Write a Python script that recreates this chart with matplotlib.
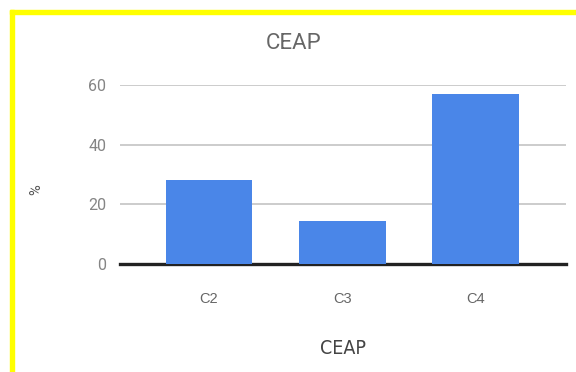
import matplotlib
matplotlib.use("Agg")
import matplotlib.pyplot as plt
from matplotlib.patches import Rectangle

categories = ["C2", "C3", "C4"]
values = [28.1, 14.3, 57.0]
yticks = [0, 20, 40, 60]
title = "CEAP"
xlabel = "CEAP"
ylabel = "%"

plt.rcParams['font.family'] = ['Roboto', 'DejaVu Sans']

fig = plt.figure(figsize=(5.76, 3.72), dpi=100)
fig.patch.set_facecolor("white")

W, H = 576, 372
ax = fig.add_axes([120 / W, (H - 264) / H, (566 - 120) / W, (264 - 85) / H])

x = list(range(len(categories)))
ax.bar(x, values, width=0.65, color="#4a86e8", zorder=3)

ax.set_xlim(-0.668, 2.679)
ax.set_ylim(0, 60)
ax.set_yticks(yticks)
ax.set_yticklabels([str(v) for v in yticks])
ax.set_xticks(x)
ax.set_xticklabels(categories, family=["Liberation Sans", "DejaVu Sans"])

ax.grid(axis="y", color="#c8c8c8", linewidth=1.3, zorder=0)
ax.set_axisbelow(True)
for s in ["top", "right", "left", "bottom"]:
    ax.spines[s].set_visible(False)
ax.axhline(0, color="#222222", linewidth=2.4, zorder=2, clip_on=False)

ax.tick_params(axis="y", length=0, pad=10, labelsize=11.5, labelcolor="#858585")
ax.tick_params(axis="x", length=0, pad=20, labelsize=10.5, labelcolor="#666666")

fig.text(294 / W, (H - 43.5) / H, title, ha="center", va="center",
         fontsize=16, color="#666666")
fig.text(343 / W, (H - 348) / H, xlabel, ha="center", va="center",
         fontsize=14, color="#444444", fontstretch="condensed",
         family=["DejaVu Sans", "Roboto"])
fig.text(36 / W, (H - 190) / H, ylabel, ha="center", va="center",
         fontsize=10.5, color="#555555", rotation=90)

# yellow frame (left and top)
fig.patches.append(Rectangle((10 / W, 0), 4 / W, (H - 10) / H,
                             transform=fig.transFigure, color="#ffff00", zorder=10))
fig.patches.append(Rectangle((10 / W, (H - 14) / H), 1 - 10 / W, 4 / H,
                             transform=fig.transFigure, color="#ffff00", zorder=10))

fig.savefig("out.png", dpi=100, facecolor="white")
